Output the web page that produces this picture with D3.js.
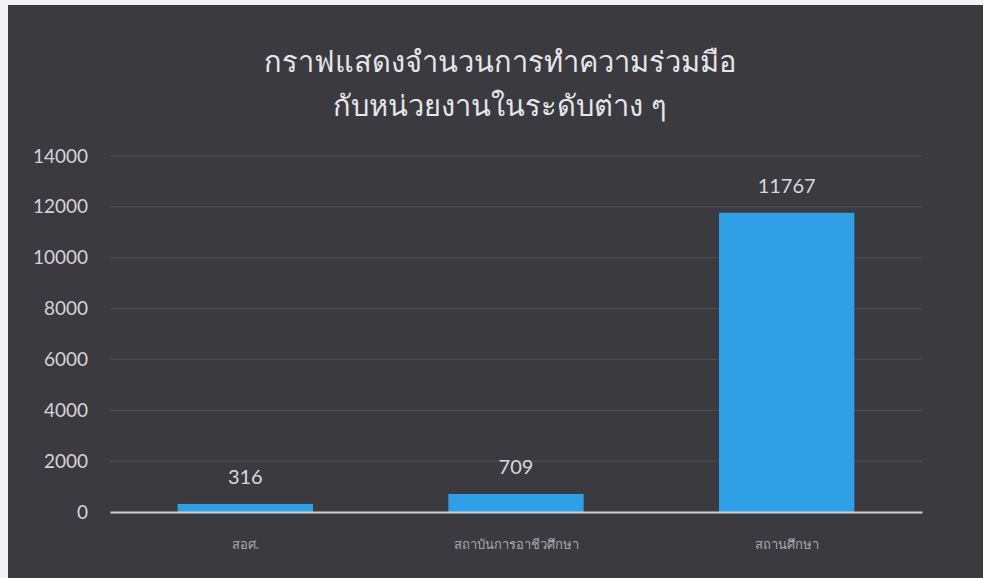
<!DOCTYPE html>
<html><head><meta charset="utf-8">
<script src="https://cdn.jsdelivr.net/npm/d3@7/dist/d3.min.js"></script>
<style>html,body{margin:0;padding:0;background:#f2f2f2;overflow:hidden}</style>
</head><body>
<svg id="c" width="983" height="578"></svg>
<script>
const categories = ["สอศ.", "สถาบันการอาชีวศึกษา", "สถานศึกษา"];
const values = [316, 709, 11767];
const yTicks = [0, 2000, 4000, 6000, 8000, 10000, 12000, 14000];
const titleLines = ["กราฟแสดงจำนวนการทำความร่วมมือ", "กับหน่วยงานในระดับต่าง ๆ"];

const svg = d3.select("#c");
const font = "Lato, 'Noto Sans', 'Open Sans', sans-serif";
svg.append("rect").attr("x", 8).attr("y", 5).attr("width", 975).attr("height", 573).attr("fill", "#3b3a3f");

const m = {left: 110, right: 922, top: 156, bottom: 512};
const x = d3.scaleBand().domain(categories).range([m.left, m.right]).paddingInner(0.5).paddingOuter(0.25);
const y = d3.scaleLinear().domain([0, 14000]).range([m.bottom, m.top]);

// gridlines
svg.append("g").selectAll("line").data(yTicks.filter(d => d > 0)).join("line")
  .attr("x1", m.left).attr("x2", m.right)
  .attr("y1", d => y(d)).attr("y2", d => y(d))
  .attr("stroke", "#4f4e55").attr("stroke-width", 1);

// y axis labels
const ya = svg.append("g").attr("transform", `translate(${m.left},0)`)
  .call(d3.axisLeft(y).tickValues(yTicks).tickSize(0).tickPadding(22).tickFormat(d3.format("d")));
ya.select(".domain").remove();
ya.selectAll("text").attr("fill", "#d4d4d8").style("font-family", font).style("font-size", "19px");

// bars
svg.append("g").selectAll("rect").data(values).join("rect")
  .attr("x", (d, i) => x(categories[i]))
  .attr("width", x.bandwidth())
  .attr("y", d => y(d))
  .attr("height", d => y(0) - y(d))
  .attr("fill", "#2f9fe6");

// data labels
svg.append("g").selectAll("text").data(values).join("text")
  .attr("x", (d, i) => x(categories[i]) + x.bandwidth() / 2)
  .attr("y", d => y(d) - 20)
  .attr("text-anchor", "middle")
  .attr("fill", "#d8d8dc")
  .style("font-family", font).style("font-size", "20px")
  .text(d => d);

// x axis
const xa = svg.append("g").attr("transform", `translate(0,${m.bottom})`)
  .call(d3.axisBottom(x).tickSize(0).tickPadding(28));
xa.select(".domain").attr("stroke", "#cfcfd4").attr("stroke-width", 2);
xa.selectAll("text").attr("fill", "#a9a8ae").style("font-family", font).style("font-size", "13px");

// title
svg.append("g").selectAll("text").data(titleLines).join("text")
  .attr("x", 500).attr("y", (d, i) => 72 + i * 44)
  .attr("text-anchor", "middle")
  .attr("fill", "#e6e6ea")
  .style("font-family", font).style("font-size", "29px")
  .text(d => d);
</script>
</body></html>
